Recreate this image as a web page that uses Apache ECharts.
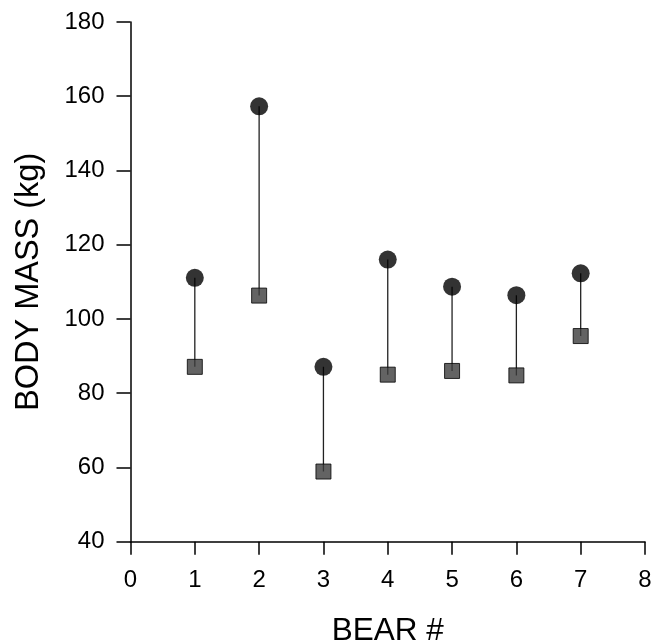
<!DOCTYPE html>
<html>
<head>
<meta charset="utf-8">
<script src="https://cdn.jsdelivr.net/npm/echarts@6/dist/echarts.min.js"></script>
<style>
html,body{margin:0;padding:0;background:#fff;}
#chart{width:665px;height:643px;}
</style>
</head>
<body>
<div id="chart"></div>
<script>
const bears = [1, 2, 3, 4, 5, 6, 7];
const massCircle = [111.1, 157.3, 87.1, 116.0, 108.7, 106.4, 112.3];
const massSquare = [87.1, 106.3, 58.9, 85.0, 86.0, 84.8, 95.4];
const xTitle = 'BEAR #';
const yTitle = 'BODY MASS (kg)';

const FONT = '"Liberation Sans", Arial, Helvetica, sans-serif';
const chart = echarts.init(document.getElementById('chart'));

const stems = bears.map((b, i) => ({
  type: 'line',
  data: [[b, massSquare[i]], [b, massCircle[i]]],
  symbol: 'none',
  silent: true,
  lineStyle: { color: '#222', width: 1.3 },
  z: 1
}));

chart.setOption({
  animation: false,
  backgroundColor: '#fff',
  grid: { left: 130.5, right: 20, top: 22, bottom: 101.3, containLabel: false, outerBoundsMode: 'none' },
  xAxis: {
    type: 'value', min: 0, max: 8, interval: 1,
    name: xTitle, nameLocation: 'middle', nameGap: 74,
    nameTextStyle: { fontFamily: FONT, fontSize: 31.5, color: '#000' },
    axisLine: { show: true, onZero: false, lineStyle: { color: '#000', width: 1.5 } },
    axisTick: { show: true, inside: false, length: 13, lineStyle: { color: '#000', width: 1.5 } },
    axisLabel: { fontFamily: FONT, fontSize: 24, color: '#000', margin: 27 },
    splitLine: { show: false }
  },
  yAxis: {
    type: 'value', min: 40, max: 180, interval: 20,
    name: yTitle, nameLocation: 'middle', nameGap: 85, nameRotate: 90,
    nameTextStyle: { fontFamily: FONT, fontSize: 32.5, color: '#000' },
    axisLine: { show: true, onZero: false, lineStyle: { color: '#000', width: 1.5 } },
    axisTick: { show: true, inside: false, length: 14, lineStyle: { color: '#000', width: 1.5 } },
    axisLabel: { fontFamily: FONT, fontSize: 24, color: '#000', margin: 26 },
    splitLine: { show: false }
  },
  series: stems.concat([
    {
      type: 'scatter',
      data: bears.map((b, i) => [b, massSquare[i]]),
      symbol: 'rect', symbolSize: 15,
      itemStyle: { color: '#3c3c3c', borderColor: '#000', borderWidth: 1 },
      z: 3
    },
    {
      type: 'scatter',
      data: bears.map((b, i) => [b, massCircle[i]]),
      symbol: 'circle', symbolSize: 18,
      itemStyle: { color: '#000' },
      z: 3
    }
  ])
});
</script>
</body>
</html>
